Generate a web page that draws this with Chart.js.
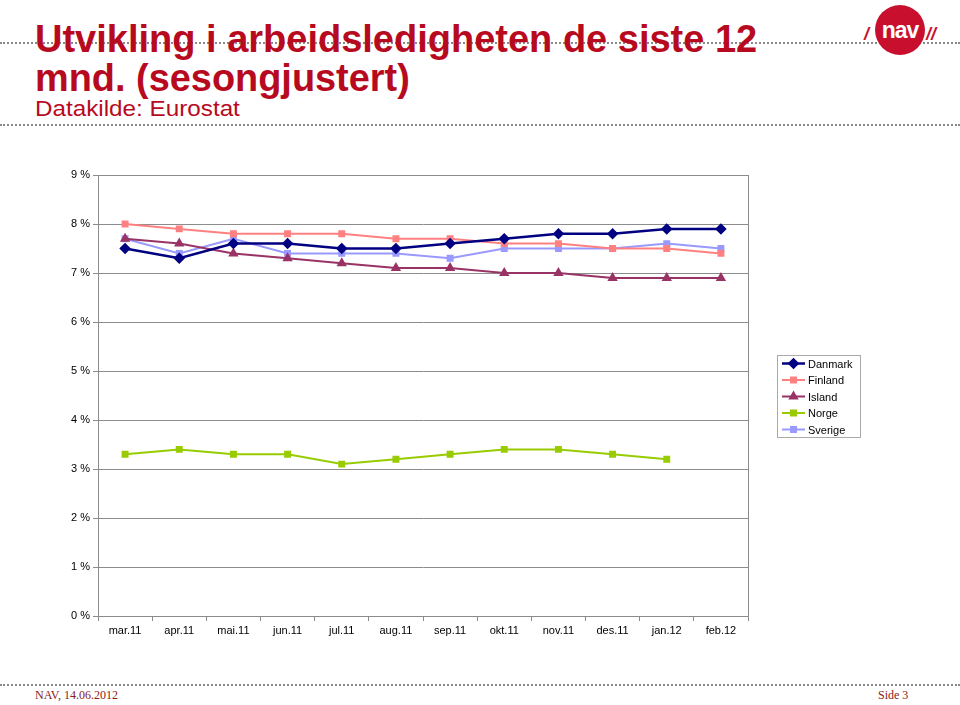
<!DOCTYPE html>
<html><head><meta charset="utf-8">
<script src="https://cdn.jsdelivr.net/npm/chart.js@4/dist/chart.umd.min.js"></script>
<style>
html,body{margin:0;padding:0;background:#fff;}
#wrap{position:relative;width:960px;height:705px;overflow:hidden;font-family:"Liberation Sans",Arial,sans-serif;}
canvas{position:absolute;left:0;top:0;}
.dot{position:absolute;left:0;width:960px;height:0;border-top:2px dotted #8a8a8a;}
.t{position:absolute;white-space:nowrap;transform-origin:0 0;color:#B80A1E;}
#t1,#t2{font-weight:bold;font-size:38px;line-height:38px;}
#t3{font-size:22px;line-height:22px;}
.foot{position:absolute;top:688px;font-family:"Liberation Serif","Times New Roman",serif;font-size:12px;color:#8B1A1A;}
</style></head>
<body><div id="wrap">
<div class="dot" style="top:42px"></div>
<div class="dot" style="top:124px"></div>
<div class="dot" style="top:684px"></div>
<div class="t" id="t1" style="left:35px;top:20px">Utvikling i arbeidsledigheten de siste 12</div>
<div class="t" id="t2" style="left:35px;top:59px">mnd. (sesongjustert)</div>
<div class="t" id="t3" style="left:35px;top:98px">Datakilde: Eurostat</div>
<svg style="position:absolute;left:860px;top:2px" width="80" height="56" viewBox="0 0 80 56">
<circle cx="40" cy="28" r="25" fill="#C8102E"/>
<text x="40" y="36" text-anchor="middle" font-family="Liberation Sans,Arial" font-weight="bold" font-size="23" letter-spacing="-1" fill="#fff">nav</text>
<text x="4" y="38" font-family="Liberation Sans,Arial" font-weight="bold" font-style="italic" font-size="18" fill="#C8102E">/</text>
<text x="66" y="38" font-family="Liberation Sans,Arial" font-weight="bold" font-style="italic" font-size="18" fill="#C8102E">//</text>
</svg>
<div class="foot" style="left:35px">NAV, 14.06.2012</div>
<div class="foot" style="left:878px">Side 3</div>
<canvas id="c" width="960" height="705"></canvas>
</div>
<script>
const categories = ["mar.11","apr.11","mai.11","jun.11","jul.11","aug.11","sep.11","okt.11","nov.11","des.11","jan.12","feb.12"];
const danmark = [7.5,7.3,7.6,7.6,7.5,7.5,7.6,7.7,7.8,7.8,7.9,7.9];
const finland = [8.0,7.9,7.8,7.8,7.8,7.7,7.7,7.6,7.6,7.5,7.5,7.4];
const island  = [7.7,7.6,7.4,7.3,7.2,7.1,7.1,7.0,7.0,6.9,6.9,6.9];
const norge   = [3.3,3.4,3.3,3.3,3.1,3.2,3.3,3.4,3.4,3.3,3.2,null];
const sverige = [7.7,7.4,7.7,7.4,7.4,7.4,7.3,7.5,7.5,7.5,7.6,7.5];
const yTicks = [0,1,2,3,4,5,6,7,8,9];

function fit(id, w){const e=document.getElementById(id);const s=w/e.offsetWidth;e.style.transform='scaleX('+s+')';}
fit('t1',722); fit('t2',375); fit('t3',205);

function ds(label,data,color,style,r,bw){
  return {label,data,borderColor:color,backgroundColor:color,pointBackgroundColor:color,pointBorderColor:color,
    pointStyle:style,pointRadius:r,pointHoverRadius:r,borderWidth:bw,tension:0,spanGaps:false};
}

const legendBox = {
  id:'legendBox',
  afterDraw(chart){
    const ctx=chart.ctx;
    const x0=777,y0=355,w=83,h=82;
    ctx.save();
    ctx.fillStyle='#fff';ctx.fillRect(x0,y0,w,h);
    ctx.strokeStyle='#aaa';ctx.lineWidth=1;ctx.strokeRect(x0+0.5,y0+0.5,w,h);
    chart.data.datasets.forEach((d,i)=>{
      const y=y0+8.5+i*16.5;
      ctx.strokeStyle=d.borderColor;ctx.lineWidth=d.borderWidth;
      ctx.beginPath();ctx.moveTo(782,y);ctx.lineTo(805,y);ctx.stroke();
      ctx.fillStyle=d.borderColor;
      Chart.helpers.drawPoint(ctx,{pointStyle:d.pointStyle,radius:d.pointRadius,rotation:0,borderWidth:1},793.5,y);
      ctx.fillStyle='#000';ctx.font='11px "Liberation Sans", Arial';ctx.textBaseline='middle';
      ctx.fillText(d.label,808,y+1);
    });
    ctx.restore();
  }
};

const frame = {
  id:'frame',
  beforeDatasetsDraw(chart){
    const a=chart.chartArea,ctx=chart.ctx;
    ctx.save();ctx.strokeStyle='#8c8c8c';ctx.lineWidth=1;
    ctx.strokeRect(Math.round(a.left)+0.5,Math.round(a.top)+0.5,Math.round(a.right-a.left),Math.round(a.bottom-a.top));
    ctx.restore();
  }
};

new Chart(document.getElementById('c'),{
  type:'line',
  data:{labels:categories,datasets:[
    ds('Danmark',danmark,'#000080','rectRot',4,2.5),
    ds('Finland',finland,'#FF8080','rect',3.5,2),
    ds('Island',island,'#993366','triangle',4,2),
    ds('Norge',norge,'#99CC00','rect',3.5,2),
    ds('Sverige',sverige,'#9999FF','rect',3.5,2)
  ]},
  plugins:[frame,legendBox],
  options:{
    responsive:false,animation:false,
    layout:{padding:{left:0,right:212,top:175,bottom:59}},
    plugins:{legend:{display:false},tooltip:{enabled:false}},
    scales:{
      x:{offset:true,
        grid:{offset:true,drawOnChartArea:false,color:'#8c8c8c',tickLength:5,tickColor:'#8c8c8c'},
        border:{color:'#8c8c8c'},
        ticks:{color:'#000',font:{family:'"Liberation Sans", Arial',size:11},padding:3,maxRotation:0,autoSkip:false},
        afterFit(s){s.height=30;}
      },
      y:{min:0,max:9,
        afterBuildTicks(s){s.ticks=yTicks.map(v=>({value:v}));},
        grid:{color:'#8c8c8c',tickLength:5,tickColor:'#8c8c8c'},
        border:{color:'#8c8c8c'},
        ticks:{color:'#000',font:{family:'"Liberation Sans", Arial',size:11},padding:3,callback:v=>v+' %'},
        afterFit(s){s.width=98;}
      }
    }
  }
});
</script>
</body></html>
